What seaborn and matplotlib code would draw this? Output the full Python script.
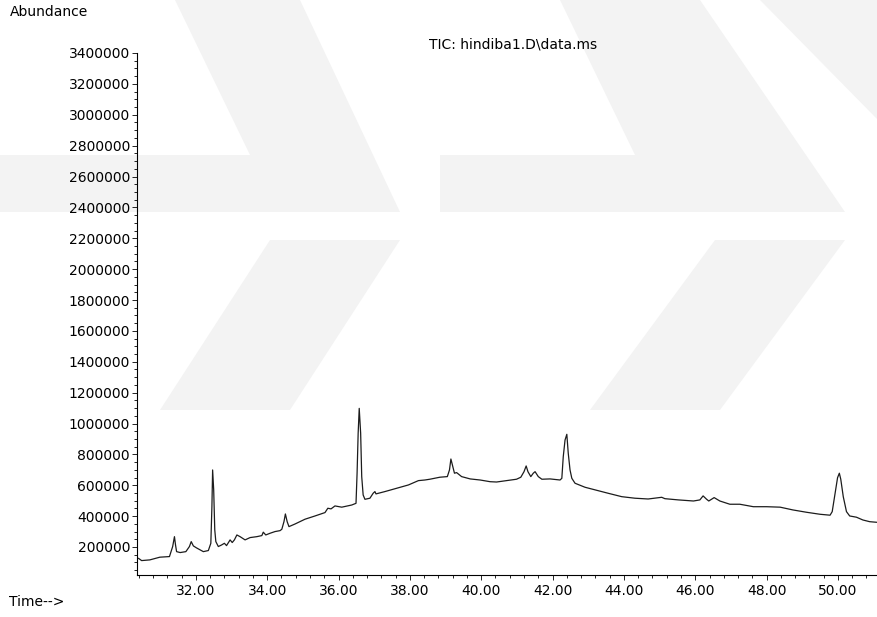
import matplotlib
matplotlib.use("Agg")
import matplotlib.pyplot as plt
from matplotlib.ticker import MultipleLocator, FixedLocator, FormatStrFormatter
from matplotlib.patches import Polygon
import seaborn as sns
import pandas as pd

# Total ion chromatogram, retention time (min) vs abundance
time_min = [
    30.39, 30.48, 30.71, 30.99, 31.26, 31.29, 31.35, 31.40, 31.43, 31.46,
    31.56, 31.72, 31.82, 31.87, 31.93, 32.02, 32.21, 32.35, 32.42, 32.45,
    32.47, 32.50, 32.53, 32.56, 32.63, 32.72, 32.80, 32.86, 32.96, 33.02,
    33.08, 33.15, 33.24, 33.38, 33.52, 33.71, 33.85, 33.89, 33.96, 34.08,
    34.22, 34.36, 34.41, 34.47, 34.51, 34.56, 34.61, 34.78, 35.06, 35.34,
    35.62, 35.70, 35.79, 35.90, 36.09, 36.37, 36.49, 36.52, 36.55, 36.58,
    36.62, 36.65, 36.69, 36.74, 36.88, 36.97, 37.02, 37.05, 37.30, 37.68,
    37.96, 38.24, 38.42, 38.56, 38.84, 39.05, 39.11, 39.15, 39.20, 39.25,
    39.31, 39.45, 39.69, 39.97, 40.25, 40.43, 40.71, 40.99, 41.11, 41.20,
    41.26, 41.31, 41.39, 41.46, 41.51, 41.60, 41.70, 41.93, 42.21, 42.26,
    42.30, 42.35, 42.40, 42.44, 42.49, 42.54, 42.63, 42.91, 43.19, 43.56,
    43.94, 44.31, 44.68, 45.06, 45.15, 45.53, 45.95, 46.13, 46.22, 46.32,
    46.38, 46.53, 46.69, 46.97, 47.25, 47.63, 48.00, 48.38, 48.74, 49.12,
    49.50, 49.78, 49.84, 49.92, 49.99, 50.04, 50.08, 50.15, 50.24, 50.33,
    50.42, 50.52, 50.70, 50.89, 51.09,
]
abundance = [
    127000, 112000, 116500, 134000, 138000, 160000, 203000, 267000, 213000, 170000,
    164000, 170000, 203000, 235000, 207000, 194000, 170000, 177000, 224000, 461000,
    699000, 570000, 311000, 235000, 203000, 213000, 224000, 209000, 246000, 229000,
    246000, 278000, 267000, 246000, 261000, 267000, 274000, 296000, 278000, 289000,
    300000, 306000, 315000, 364000, 414000, 364000, 332000, 349000, 380000, 401000,
    423000, 451000, 447000, 466000, 458000, 472000, 483000, 678000, 937000, 1098000,
    937000, 656000, 537000, 509000, 516000, 548000, 559000, 544000, 559000, 584000,
    602000, 630000, 634000, 639000, 652000, 656000, 699000, 770000, 725000, 678000,
    682000, 656000, 641000, 634000, 623000, 621000, 630000, 639000, 652000, 688000,
    725000, 688000, 656000, 678000, 688000, 656000, 639000, 641000, 634000, 645000,
    785000, 893000, 930000, 807000, 699000, 645000, 613000, 587000, 570000, 548000,
    526000, 516000, 511000, 522000, 513000, 505000, 498000, 505000, 531000, 509000,
    498000, 520000, 498000, 477000, 477000, 461000, 461000, 458000, 440000, 425000,
    412000, 406000, 429000, 548000, 649000, 678000, 639000, 526000, 429000, 401000,
    397000, 393000, 375000, 364000, 360000,
]

x_tick_values = [32, 34, 36, 38, 40, 42, 44, 46, 48, 50]
y_tick_values = [200000, 400000, 600000, 800000, 1000000, 1200000, 1400000,
                 1600000, 1800000, 2000000, 2200000, 2400000, 2600000,
                 2800000, 3000000, 3200000, 3400000]

sns.set_theme(style="white")
plt.rcParams["font.family"] = ["DejaVu Sans"]

W, H = 878, 617
fig = plt.figure(figsize=(W / 100, H / 100), dpi=100)
fig.patch.set_facecolor("white")


def fpt(x, y):
    return (x / W, 1 - y / H)


# faint grey background watermark
wm_color = "#f3f3f3"
wm_shapes = [
    [(175, 0), (300, 0), (400, 212), (0, 212), (0, 155), (250, 155)],
    [(400, 240), (290, 410), (160, 410), (270, 240)],
    [(560, 0), (700, 0), (845, 212), (440, 212), (440, 155), (635, 155)],
    [(845, 240), (720, 410), (590, 410), (715, 240)],
    [(760, 0), (878, 0), (878, 120)],
]
for pts in wm_shapes:
    fig.patches.append(Polygon([fpt(*p) for p in pts], closed=True,
                               transform=fig.transFigure, facecolor=wm_color,
                               edgecolor="none", zorder=0))

x0_px, x1_px, ytop_px, ybot_px = 137, 881, 53, 575
px_per_min = 35.67
px_per_unit = 30.875 / 200000
t_left = 30.35
ax = fig.add_axes([x0_px / W, 1 - ybot_px / H, (x1_px - x0_px) / W,
                   (ybot_px - ytop_px) / H])
ax.patch.set_alpha(0)
ax.set_zorder(2)

df = pd.DataFrame({"time": time_min, "abundance": abundance})
sns.lineplot(data=df, x="time", y="abundance", ax=ax, color="#1c1c1c",
             linewidth=0.9, estimator=None, sort=False)

ax.set_xlim(t_left, t_left + (x1_px - x0_px) / px_per_min)
ax.set_ylim(3400000 - (ybot_px - ytop_px) / px_per_unit, 3400000)

for side in ("top", "right"):
    ax.spines[side].set_visible(False)
for side in ("left", "bottom"):
    ax.spines[side].set_color("black")
    ax.spines[side].set_linewidth(0.8)

ax.xaxis.set_major_locator(FixedLocator(x_tick_values))
ax.xaxis.set_major_formatter(FormatStrFormatter("%.2f"))
ax.xaxis.set_minor_locator(MultipleLocator(0.4))
ax.yaxis.set_major_locator(FixedLocator(y_tick_values))
ax.yaxis.set_major_formatter(FormatStrFormatter("%d"))
ax.yaxis.set_minor_locator(MultipleLocator(50000))

ax.tick_params(which="both", direction="out", color="black", width=0.6,
               labelsize=10, labelcolor="black")
ax.tick_params(which="major", length=3.5)
ax.tick_params(which="minor", length=2.5)
ax.tick_params(axis="x", which="major", pad=3)
ax.tick_params(axis="y", which="major", pad=1.5)
ax.tick_params(axis="x", which="both", bottom=True)
ax.tick_params(axis="y", which="both", left=True)
ax.set_xlabel("")
ax.set_ylabel("")

fig.text(*fpt(10, 12), "Abundance", ha="left", va="center", fontsize=10,
         color="black", zorder=3)
fig.text(*fpt(513, 45), "TIC: hindiba1.D\\data.ms", ha="center",
         va="center", fontsize=10, color="black", zorder=3)
fig.text(*fpt(9, 602), "Time-->", ha="left", va="center", fontsize=10,
         color="black", zorder=3)

fig.savefig("out.png", dpi=100)
